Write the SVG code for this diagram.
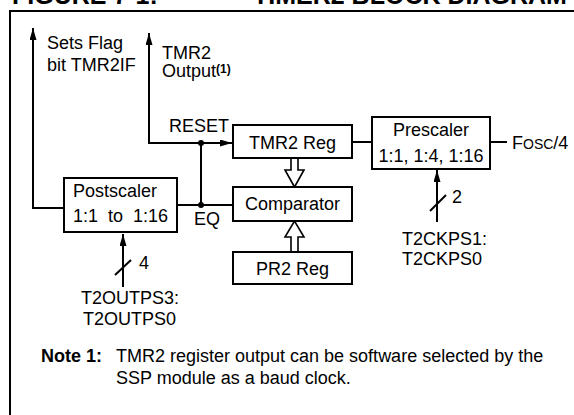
<svg xmlns="http://www.w3.org/2000/svg" width="574" height="415" viewBox="0 0 574 415">
<style>
text{font-family:"Liberation Sans",Arial,sans-serif;font-size:18px;fill:#000}
.b{font-weight:bold}
.c{text-anchor:middle}
.box{fill:#fff;stroke:#000;stroke-width:2}
.ln{fill:none;stroke:#000;stroke-width:2}
.hollow{fill:#fff;stroke:#000;stroke-width:1.6;stroke-linejoin:miter}
</style>
<defs>
<marker id="ah" viewBox="0 0 12 7" refX="12" refY="3.5" markerWidth="12" markerHeight="7" markerUnits="userSpaceOnUse" orient="auto">
<path d="M0,0 L12,3.5 L0,7 z" fill="#000"/>
</marker>
</defs>
<rect width="574" height="415" fill="#fff"/>
<text class="b" x="12" y="4" style="font-size:25px">FIGURE 7-1:</text>
<text class="b" x="253" y="4" style="font-size:25px">TIMER2 BLOCK DIAGRAM</text>
<rect x="10" y="11" width="620" height="460" fill="none" stroke="#000" stroke-width="2"/>

<g id="connectors">
<path class="ln" d="M64,208 H33 V28" marker-end="url(#ah)"/>
<path class="ln" d="M149,143 V33" marker-end="url(#ah)"/>
<path class="ln" d="M148,143 H232" marker-end="url(#ah)"/>
<path class="ln" d="M201,205 V143"/>
<path class="ln" d="M177,205 H233"/>
<path class="ln" d="M352,142 H372"/>
<path class="ln" d="M490,142 H507"/>
<path class="ln" d="M123,287 V234" marker-end="url(#ah)"/>
<path class="ln" d="M115,275 L131,260"/>
<path class="ln" d="M437,222 V170" marker-end="url(#ah)"/>
<path class="ln" d="M430,211 L446,195"/>
<circle cx="201" cy="143" r="3" fill="#000"/>
<circle cx="201" cy="205" r="3" fill="#000"/>
<polygon class="hollow" points="291,158 298,158 298,170 304,170 294.5,187 285,170 291,170"/>
<polygon class="hollow" points="291,252 298,252 298,237 304,237 294.5,221 285,237 291,237"/>
</g>

<g id="flag">
<text x="47" y="49">Sets Flag</text>
<text x="47" y="71">bit TMR2IF</text>
</g>
<g id="tmr2out">
<text x="162" y="59">TMR2</text>
<text x="162" y="77">Output<tspan class="b" style="font-size:12px" dy="-4">(1)</tspan></text>
</g>
<g id="reset"><text x="169" y="132">RESET</text></g>
<g id="eq"><text x="194" y="225">EQ</text></g>

<g id="tmr2reg">
<rect class="box" x="233" y="125" width="119" height="33"/>
<text class="c" x="292.5" y="149">TMR2 Reg</text>
</g>
<g id="prescaler">
<rect class="box" x="372" y="117" width="118" height="52"/>
<text class="c" x="431" y="136">Prescaler</text>
<text class="c" x="431" y="162">1:1, 1:4, 1:16</text>
</g>
<g id="fosc"><text x="512" y="149">F<tspan style="font-size:14px">OSC</tspan>/4</text></g>
<g id="comparator">
<rect class="box" x="233" y="187" width="119" height="34"/>
<text class="c" x="292.5" y="210">Comparator</text>
</g>
<g id="pr2reg">
<rect class="box" x="233" y="252" width="119" height="32"/>
<text class="c" x="292.5" y="275">PR2 Reg</text>
</g>
<g id="postscaler">
<rect class="box" x="64" y="178" width="113" height="54"/>
<text x="73" y="197">Postscaler</text>
<text x="73" y="222" style="white-space:pre">1:1  to  1:16</text>
</g>
<g id="postsel">
<text x="139" y="269">4</text>
<text x="81" y="304">T2OUTPS3:</text>
<text x="83" y="325">T2OUTPS0</text>
</g>
<g id="presel">
<text x="452" y="203">2</text>
<text x="402" y="245">T2CKPS1:</text>
<text x="402" y="265">T2CKPS0</text>
</g>
<g id="note">
<text class="b" x="41" y="362">Note 1:</text>
<text x="116" y="362">TMR2 register output can be software selected by the</text>
<text x="116" y="384">SSP module as a baud clock.</text>
</g>
</svg>
